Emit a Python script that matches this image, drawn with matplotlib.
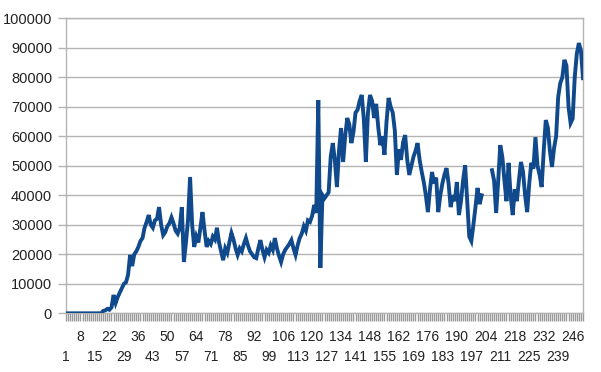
import numpy as np
import matplotlib
matplotlib.use("Agg")
import matplotlib.pyplot as plt

# daily values, one per category 1..251 (nan = missing, line breaks there)
values = [
    0, 0, 0, 0, 0, 0, 0, 0, 0, 0,
    0, 0, 0, 0, 0, 0, 0, 0, 800, 1000,
    1500, 1200, 2000, 6200, 3500, 5500, 7000, 8500, 10000, 10500,
    13000, 19800, 16000, 20000, 21000, 22500, 24500, 25500, 29000, 31000,
    33300, 30000, 29000, 31500, 32000, 36000, 30000, 26500, 27500, 29500,
    30500, 32500, 30500, 28000, 27000, 29000, 36000, 17400, 24000, 31600,
    46200, 30000, 22500, 26000, 24000, 29000, 34300, 28000, 22500, 24500,
    23500, 26000, 25000, 29000, 24000, 21000, 18000, 22000, 20500, 24000,
    27200, 25000, 22000, 19800, 22000, 21000, 23500, 25500, 23000, 21000,
    20000, 19000, 18700, 22000, 24800, 21500, 19000, 21500, 20500, 23000,
    21500, 25500, 22000, 19500, 17400, 20000, 21500, 22500, 23500, 24800,
    22000, 19800, 23000, 25500, 27000, 29500, 28000, 31500, 31000, 33000,
    36700, 34000, 72300, 15400, 40100, 39000, 40000, 41000, 53000, 57700,
    52000, 42800, 55000, 62800, 51300, 60000, 66200, 64000, 57700, 61400,
    68000, 69000, 72000, 74000, 66000, 51300, 68000, 74000, 72000, 66200,
    71000, 63000, 57000, 60000, 53700, 65000, 73000, 70000, 68000, 62000,
    46900, 55600, 52000, 58000, 60400, 52000, 46900, 50000, 53000, 55000,
    57700, 52000, 48000, 44500, 40000, 34300, 42000, 47900, 44000, 46000,
    34300, 40000, 44000, 47000, 49200, 44000, 36000, 40000, 38000, 44500,
    33300, 38000, 45000, 50200, 38000, 26000, 24500, 30000, 36000, 42500,
    37000, 40000, np.nan, np.nan, np.nan, np.nan, 48500, 45000, 34000, 45000,
    57000, 53000, 45000, 38000, 51000, 40000, 33300, 42000, 38000, 45000,
    51300, 48000, 40000, 34300, 44000, 51000, 49000, 59700, 50000, 47000,
    42800, 55000, 65500, 63000, 55000, 49600, 56000, 60000, 73300, 78000,
    80000, 85900, 84000, 70000, 64500, 66000, 80000, 88000, 91600, 89000,
    79700,
]
categories = list(range(1, len(values) + 1))
label_every = 7
y_ticks = list(range(0, 100001, 10000))

LINE = "#104a8c"
GRID = "#b4b4b4"
TICK = "#9a9a9a"
TEXT = "#222222"

plt.rcParams.update({"font.family": "Liberation Sans", "font.size": 10})

fig = plt.figure(figsize=(6.01, 3.72), dpi=100)
ax = fig.add_axes([66 / 601, 1 - 313.3 / 372, 517 / 601, 295 / 372])

ax.plot(categories, values, color=LINE, linewidth=2.8, solid_joinstyle="miter", zorder=3)

ax.set_xlim(1, len(values))
ax.set_ylim(0, 100000)
ax.set_yticks(y_ticks)
ax.set_yticklabels([str(v) for v in y_ticks], color=TEXT, fontsize=10.5)
ax.yaxis.grid(True, color=GRID, linewidth=1)
ax.set_axisbelow(True)

# tick at every category; labels every 7th, staggered over two rows
ax.set_xticks(categories)
ax.set_xticklabels([])
tr = ax.get_xaxis_transform()
for c in categories[::label_every]:
    row = ((c - 1) // label_every) % 2
    ypos = -0.147 if row == 0 else -0.079
    ax.text(c, ypos, str(c), transform=tr, ha="center", va="center",
            color=TEXT, fontsize=10)

ax.tick_params(axis="x", length=6, width=1, color=TICK)
ax.tick_params(axis="y", length=6, width=1, color=GRID, pad=4)
for s in ax.spines.values():
    s.set_color(GRID)
    s.set_linewidth(1)

fig.savefig("out.png", dpi=100, facecolor="white")
